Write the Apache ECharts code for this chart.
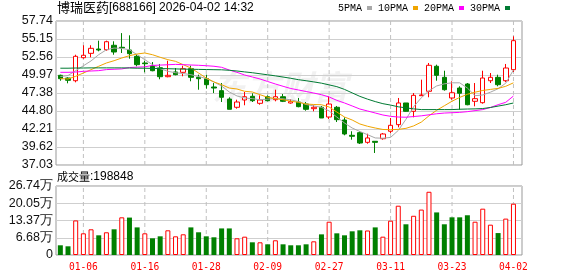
<!DOCTYPE html>
<html>
<head>
<meta charset="utf-8">
<script src="https://cdn.jsdelivr.net/npm/echarts@6/dist/echarts.min.js"></script>
<style>
html,body{margin:0;padding:0;background:#fff;}
#chart{width:578px;height:276px;}
</style>
</head>
<body>
<div id="chart"></div>
<script>
// ---- data ----
const dates = ['12-30','12-31','01-05','01-06','01-07','01-08','01-09','01-12','01-13','01-14','01-15','01-16',
  '01-19','01-20','01-21','01-22','01-23','01-26','01-27','01-28','01-29','01-30',
  '02-02','02-03','02-04','02-05','02-06','02-09','02-10','02-11','02-12','02-13',
  '02-24','02-25','02-26','02-27','03-02','03-03','03-04','03-05','03-06','03-09','03-10','03-11',
  '03-12','03-13','03-16','03-17','03-18','03-19','03-20','03-23','03-24','03-25','03-26','03-27',
  '03-30','03-31','04-01','04-02'];
const tickDates = ['01-06','01-16','01-28','02-09','02-27','03-11','03-23','04-02'];
const opens  = [49.93,49.54,49.15,52.46,53.09,53.71,53.61,54.25,53.96,53.57,52.66,51.70,51.27,51.02,49.73,50.41,50.36,50.88,49.64,49.44,
  48.25,47.72,46.52,45.33,46.38,46.91,45.90,46.85,46.42,46.85,45.95,46.09,45.80,45.13,45.33,43.93,45.33,43.50,41.30,41.68,
  40.29,40.44,40.81,41.88,42.83,45.95,44.75,47.00,47.63,51.23,49.64,46.67,48.10,48.68,46.19,45.99,49.15,49.64,49.15,50.74];
const closes = [49.44,49.21,52.66,52.81,53.81,53.57,54.76,53.28,53.86,53.04,51.46,51.60,50.59,49.73,49.93,50.02,50.88,49.64,49.44,48.58,
  48.10,46.77,45.04,46.09,46.85,46.28,46.38,46.28,46.85,46.19,46.15,45.42,45.04,45.33,43.79,45.80,43.55,41.49,41.16,40.19,
  40.92,40.29,41.49,42.74,45.95,44.75,47.05,47.10,51.37,49.93,47.86,47.42,47.35,45.70,46.57,49.54,49.64,48.58,50.98,54.91];
const lows   = [49.15,48.78,48.92,52.32,52.52,53.38,53.47,52.89,53.14,52.32,51.22,50.36,50.51,49.36,49.64,49.93,49.79,49.07,47.86,48.00,
  47.38,46.09,45.04,45.13,45.62,46.09,45.70,46.19,46.19,46.09,45.85,45.33,44.84,44.75,43.79,43.65,43.21,41.30,40.67,40.05,
  40.09,38.76,40.67,41.63,42.45,44.70,43.89,46.95,46.77,49.15,47.72,46.42,44.98,45.62,45.47,45.85,48.82,48.35,48.97,50.41];
const highs  = [50.02,49.64,52.89,54.25,54.25,54.91,54.91,54.82,56.00,55.68,52.99,52.03,51.84,51.56,52.03,50.98,51.31,51.31,50.02,50.02,
  48.82,48.82,46.77,46.42,47.53,47.34,47.05,47.05,47.86,47.24,46.48,46.67,46.09,45.62,45.52,46.91,45.52,43.89,41.88,41.88,
  41.53,40.44,41.63,43.79,46.67,45.95,47.38,49.30,51.70,51.46,50.59,49.07,48.35,48.82,48.82,50.59,50.26,50.02,51.56,55.54];
const closeBeforeStart = 49.90;
const ma5  = [49.75,49.90,50.60,51.30,52.00,52.90,53.60,53.85,53.80,53.60,52.89,52.18,51.46,50.88,50.50,50.30,50.19,50.02,49.76,49.47,
  48.97,48.39,47.53,46.96,46.67,46.57,46.42,46.50,46.60,46.55,46.40,46.16,45.73,45.52,45.33,44.80,43.93,43.07,42.35,41.85,
  41.39,40.92,40.88,41.00,42.00,43.60,45.40,46.70,47.70,48.40,48.70,48.85,48.85,48.10,47.00,47.10,47.50,48.00,48.80,50.70];
const ma10 = [49.45,49.40,49.79,50.26,50.74,51.23,51.70,52.03,52.42,52.75,52.99,53.14,52.89,52.52,52.18,51.94,51.46,50.98,50.26,49.54,
  48.97,48.58,48.10,47.96,47.63,47.53,47.14,46.77,46.57,46.42,46.20,46.05,45.80,45.73,45.70,45.37,44.65,43.93,43.50,42.93,
  42.60,42.35,42.14,42.11,42.15,42.30,42.65,43.20,44.10,44.90,45.55,46.20,46.75,47.20,47.50,47.75,47.90,48.05,48.35,48.85];
const ma20 = [50.36,50.36,50.40,50.50,50.55,50.60,50.75,50.80,50.85,51.05,51.10,51.15,51.35,51.40,51.45,51.50,51.46,51.41,51.37,51.31,
  51.23,51.08,50.69,50.36,49.97,49.69,49.40,49.04,48.68,48.35,48.03,47.82,47.60,47.38,47.14,46.81,46.33,45.95,45.52,45.08,
  44.80,44.51,44.22,44.03,43.93,43.90,44.00,44.10,44.25,44.40,44.50,44.55,44.60,44.70,44.85,45.00,45.30,45.70,46.05,46.95];
const ma30 = [50.95,50.95,50.98,50.98,51.00,51.00,51.00,51.00,51.00,50.98,50.95,50.95,50.92,50.90,50.88,50.85,50.82,50.80,50.78,50.76,
  50.74,50.72,50.65,50.55,50.42,50.30,50.15,50.00,49.85,49.68,49.50,49.30,49.15,48.98,48.80,48.55,48.30,47.90,47.40,46.90,
  46.50,46.15,45.85,45.65,45.40,45.25,45.10,45.00,45.00,45.00,45.00,45.00,45.05,45.08,45.10,45.15,45.30,45.50,45.70,45.95];
const volumes = [37600,33700,134000,84000,99600,76300,88000,99600,146000,145000,107000,84000,64700,72400,95700,72400,80200,107000,88000,72400,
  68600,103000,103000,64700,71000,49200,49200,41400,57000,41400,37600,37600,41400,53000,80000,129000,84000,76300,91800,95700,
  95000,107000,71000,133000,191000,119000,152000,176000,245000,165000,119000,146000,146000,154000,129000,179500,117500,85000,141000,198848];
const priceTickLabels = ['37.03','39.62','42.21','44.80','47.38','49.97','52.56','55.15','57.74'];
const volTickLabels = ['0','6.68万','13.37万','20.05万','26.74万'];
const maNames = ['5PMA','10PMA','20PMA','30PMA'];
const titleName = '博瑞医药';
const titleRest = '[688166] 2026-04-02 14:32';
const volTitle = '成交量';
const volLast = ':198848';

// ---- build ----
const PMIN = 37.03, PMAX = 57.74, PINT = (PMAX - PMIN) / 8;
const VMAX = 267400, VINT = VMAX / 4;
const UP = '#ff0000', DOWN = '#008000';
const candleData = dates.map((d, i) => [opens[i], closes[i], lows[i], highs[i]]);
const volData = volumes.map((v, i) => {
  const prev = i === 0 ? closeBeforeStart : closes[i - 1];
  const up = closes[i] >= prev;
  return { value: v, itemStyle: up ? { color: '#fff', borderColor: UP, borderWidth: 1 } : { color: DOWN, borderColor: DOWN, borderWidth: 0 } };
});
// vertical dashed guides at the labelled dates: two-point line series on the category axis
const guideSeries = (xi, yi, ymin, ymax) => tickDates.map(d => ({
  type: 'line', xAxisIndex: xi, yAxisIndex: yi, z: 1, silent: true, symbol: 'none',
  animation: false, clip: false,
  data: [[d, ymin], [d, ymax]],
  lineStyle: { color: '#c0c0c0', width: 1, type: [4, 3] },
  emphasis: { disabled: true }, tooltip: { show: false }
}));
const maColors = ['#a8a8a8', '#f0a500', '#ff00ff', '#007a33'];
const maData = [ma5, ma10, ma20, ma30];

const PL = 56, PW = 466, DL = 56.5, DW = 460.8;
const chart = echarts.init(document.getElementById('chart'), null, { renderer: 'canvas' });
chart.setOption({
  animation: false,
  backgroundColor: '#fff',
  title: [
    { text: '{cn|' + titleName + '}{en|' + titleRest + '}', left: 57, top: 1, padding: 0,
      textStyle: { fontWeight: 'normal', rich: {
        cn: { fontFamily: 'Noto Sans CJK SC', fontSize: 13, color: '#000', fontWeight: 'normal' },
        en: { fontFamily: 'Liberation Sans', fontSize: 12, color: '#000', fontWeight: 'normal' } } } },
    { text: '{cn|' + volTitle + '}{en|' + volLast + '}', left: 57, top: 171, padding: 0,
      textStyle: { fontWeight: 'normal', rich: {
        cn: { fontFamily: 'Noto Sans CJK SC', fontSize: 11, color: '#000', fontWeight: 'normal' },
        en: { fontFamily: 'Liberation Sans', fontSize: 12, color: '#000', fontWeight: 'normal' } } } }
  ],
  legend: {
    data: maNames, left: 338, top: 3, align: 'right', icon: 'rect',
    itemWidth: 5, itemHeight: 4, itemGap: 6, padding: 0,
    textStyle: { fontFamily: 'Liberation Mono', fontSize: 10, color: '#000' }
  },
  graphic: [{
    type: 'text', left: 212, top: 70, z: -10, silent: true,
    style: { text: '东方财富', fontSize: 34, fontWeight: 'bold', fontStyle: 'italic',
      fontFamily: 'Noto Sans CJK SC', fill: 'rgba(0,0,0,0.055)' }
  }],
  grid: [
    { left: PL, top: 21, width: PW, height: 144, show: true, borderColor: '#999', borderWidth: 1, backgroundColor: 'rgba(0,0,0,0)' },
    { left: DL, top: 21, width: DW, height: 144 },
    { left: PL, top: 186, width: PW, height: 69, show: true, borderColor: '#999', borderWidth: 1, backgroundColor: 'rgba(0,0,0,0)' },
    { left: DL, top: 186, width: DW, height: 69 }
  ],
  xAxis: [
    { gridIndex: 0, type: 'value', min: 0, max: 1, show: false },
    { gridIndex: 1, type: 'category', data: dates, boundaryGap: true,
      axisLine: { show: false }, axisTick: { show: false }, axisLabel: { show: false }, splitLine: { show: false } },
    { gridIndex: 2, type: 'value', min: 0, max: 1, show: false },
    { gridIndex: 3, type: 'category', data: dates, boundaryGap: true,
      axisLine: { show: false }, axisTick: { show: false }, splitLine: { show: false },
      axisLabel: { show: true, interval: (i, v) => tickDates.includes(v), color: '#ff0000',
        fontFamily: 'DejaVu Sans Mono', fontSize: 9.6, margin: 7 } }
  ],
  yAxis: [
    { gridIndex: 0, type: 'value', min: PMIN, max: PMAX, interval: PINT,
      axisLine: { show: false }, axisTick: { show: false },
      splitLine: { show: true, lineStyle: { color: '#cfcfcf', width: 1 } },
      axisLabel: { margin: 3, color: '#111', fontFamily: 'Liberation Sans', fontSize: 12.5,
        formatter: v => priceTickLabels[Math.round((v - PMIN) / PINT)] } },
    { gridIndex: 1, type: 'value', min: PMIN, max: PMAX, show: false, splitLine: { show: false } },
    { gridIndex: 2, type: 'value', min: 0, max: VMAX, interval: VINT,
      axisLine: { show: false }, axisTick: { show: false },
      splitLine: { show: true, lineStyle: { color: '#cfcfcf', width: 1 } },
      axisLabel: { margin: 3, color: '#111', fontFamily: 'Liberation Sans', fontSize: 12.5,
        formatter: v => volTickLabels[Math.round(v / VINT)] } },
    { gridIndex: 3, type: 'value', min: 0, max: VMAX, show: false, splitLine: { show: false } }
  ],
  series: [
    ...guideSeries(1, 1, PMIN, PMAX),
    ...guideSeries(3, 3, 0, VMAX),
    { type: 'candlestick', name: 'K', xAxisIndex: 1, yAxisIndex: 1, data: candleData, barWidth: 5, z: 3,
      itemStyle: { color: '#fff', color0: DOWN, borderColor: UP, borderColor0: DOWN, borderWidth: 1 } },
    ...maNames.map((n, k) => ({
      type: 'line', name: n, xAxisIndex: 1, yAxisIndex: 1, data: maData[k], symbol: 'none', z: 4,
      lineStyle: { color: maColors[k], width: 1 }, itemStyle: { color: maColors[k] }
    })),
    { type: 'bar', xAxisIndex: 3, yAxisIndex: 3, data: volData, barWidth: 5, z: 3 }
  ]
});
</script>
</body>
</html>
